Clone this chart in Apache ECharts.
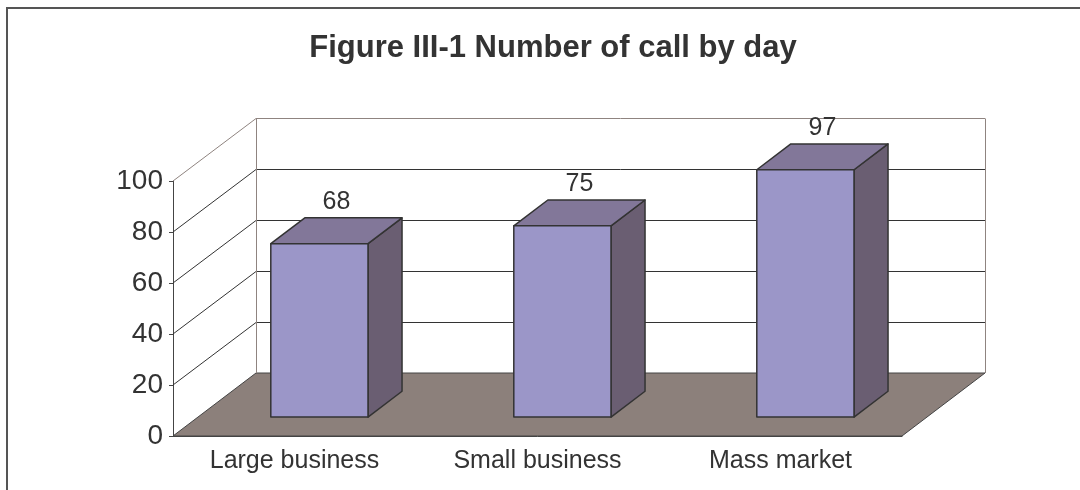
<!DOCTYPE html>
<html>
<head>
<meta charset="utf-8">
<title>Figure III-1 Number of call by day</title>
<script src="https://cdn.jsdelivr.net/npm/echarts@6/dist/echarts.min.js"></script>
<style>
  html, body { margin: 0; padding: 0; background: #fff; }
  #chart { width: 1080px; height: 490px; }
</style>
</head>
<body>
<div id="chart"></div>
<script>
var categories = ['Large business', 'Small business', 'Mass market'];
var calls = [68, 75, 97];
var yTicks = [0, 20, 40, 60, 80, 100];

// depth of the fake 3D box, in pixels
var DEPTH_X = 83, DEPTH_Y = -63;
// bars sit between these fractions of the depth
var BAR_FRONT = 0.3, BAR_BACK = 0.71;
var BAR_WIDTH = 0.4;

var textColor = '#333';
var fontFamily = '"Liberation Sans", Arial, sans-serif';
var wallEdge = '#8f8480';

var chart = echarts.init(document.getElementById('chart'));

// back wall grid lines, side wall diagonals and the floor
function renderWall(params, api) {
    var cs = params.coordSys;
    var v = api.value(1);
    var y = api.coord([0, v])[1];
    var y0 = api.coord([0, 0])[1];
    var left = cs.x, right = cs.x + cs.width;

    if (v === 0) {
        return {
            type: 'polygon',
            shape: { points: [[left, y], [right, y], [right + DEPTH_X, y + DEPTH_Y], [left + DEPTH_X, y + DEPTH_Y]] },
            style: { fill: '#8c807b', stroke: '#444', lineWidth: 1 }
        };
    }
    var isTop = v === yTicks[yTicks.length - 1];
    var color = isTop ? wallEdge : '#333';
    var yy = y + DEPTH_Y + 0.5;
    var children = [{
        type: 'polyline',
        shape: { points: [[left, y], [left + DEPTH_X, yy], [right + DEPTH_X, yy]] },
        style: { stroke: color, lineWidth: 1, fill: null }
    }];
    if (isTop) {
        children.push({
            type: 'line',
            shape: { x1: left + DEPTH_X + 0.5, y1: yy, x2: left + DEPTH_X + 0.5, y2: y0 + DEPTH_Y },
            style: { stroke: wallEdge, lineWidth: 1 }
        }, {
            type: 'line',
            shape: { x1: right + DEPTH_X + 0.5, y1: yy, x2: right + DEPTH_X + 0.5, y2: y0 + DEPTH_Y },
            style: { stroke: wallEdge, lineWidth: 1 }
        });
    }
    return { type: 'group', children: children };
}

function renderBar(params, api) {
    var idx = api.value(0), v = api.value(1);
    var top = api.coord([idx, v]);
    var base = api.coord([idx, 0]);
    var w = api.size([1, 0])[0] * BAR_WIDTH;
    var x0 = top[0] - w / 2 + BAR_FRONT * DEPTH_X;
    var x1 = x0 + w;
    var yt = top[1] + BAR_FRONT * DEPTH_Y;
    var yb = base[1] + BAR_FRONT * DEPTH_Y;
    var dx = (BAR_BACK - BAR_FRONT) * DEPTH_X;
    var dy = (BAR_BACK - BAR_FRONT) * DEPTH_Y;
    var edge = { stroke: '#333', lineWidth: 1.5, lineJoin: 'round' };

    return {
        type: 'group',
        children: [{
            type: 'polygon',
            shape: { points: [[x1, yt], [x1 + dx, yt + dy], [x1 + dx, yb + dy], [x1, yb]] },
            style: Object.assign({ fill: '#6a5e72' }, edge)
        }, {
            type: 'polygon',
            shape: { points: [[x0, yt], [x1, yt], [x1 + dx, yt + dy], [x0 + dx, yt + dy]] },
            style: Object.assign({ fill: '#827799' }, edge)
        }, {
            type: 'rect',
            shape: { x: x0, y: yt, width: w, height: yb - yt },
            style: Object.assign({ fill: '#9b96c8' }, edge)
        }, {
            type: 'text',
            x: x0 + w / 2 + dx / 2,
            y: yt + dy - 3,
            style: {
                text: String(v),
                fill: textColor,
                fontSize: 25,
                fontFamily: fontFamily,
                align: 'center',
                verticalAlign: 'bottom'
            }
        }]
    };
}

var option = {
    animation: false,
    backgroundColor: '#fff',
    title: {
        text: 'Figure III-1 Number of call by day',
        left: 548,
        textAlign: 'center',
        top: 28,
        textStyle: { fontSize: 31, fontWeight: 'bold', color: textColor, fontFamily: fontFamily }
    },
    graphic: [{
        type: 'rect',
        shape: { x: 7, y: 8, width: 1100, height: 520 },
        style: { fill: null, stroke: '#555', lineWidth: 2 },
        silent: true
    }],
    grid: { left: 173, right: 178, top: 181, bottom: 54, containLabel: false },
    xAxis: {
        type: 'category',
        data: categories,
        axisLine: { lineStyle: { color: '#444', width: 1 } },
        axisTick: { length: 6, lineStyle: { color: '#444' } },
        axisLabel: { fontSize: 25, color: textColor, fontFamily: fontFamily, margin: 13 },
        splitLine: { show: false }
    },
    yAxis: {
        type: 'value',
        min: 0,
        max: 100,
        interval: 20,
        axisLine: { show: true, lineStyle: { color: '#444', width: 1 } },
        axisTick: { show: true, length: 4, lineStyle: { color: '#444' } },
        axisLabel: { fontSize: 28, color: textColor, fontFamily: fontFamily, margin: 10 },
        splitLine: { show: false }
    },
    series: [{
        type: 'custom',
        name: 'walls',
        silent: true,
        clip: false,
        z: 1,
        renderItem: renderWall,
        data: yTicks.map(function(t) { return [0, t]; })
    }, {
        type: 'custom',
        name: 'calls',
        silent: true,
        clip: false,
        z: 3,
        renderItem: renderBar,
        data: calls.map(function(v, i) { return [i, v]; })
    }]
};

chart.setOption(option);
</script>
</body>
</html>
